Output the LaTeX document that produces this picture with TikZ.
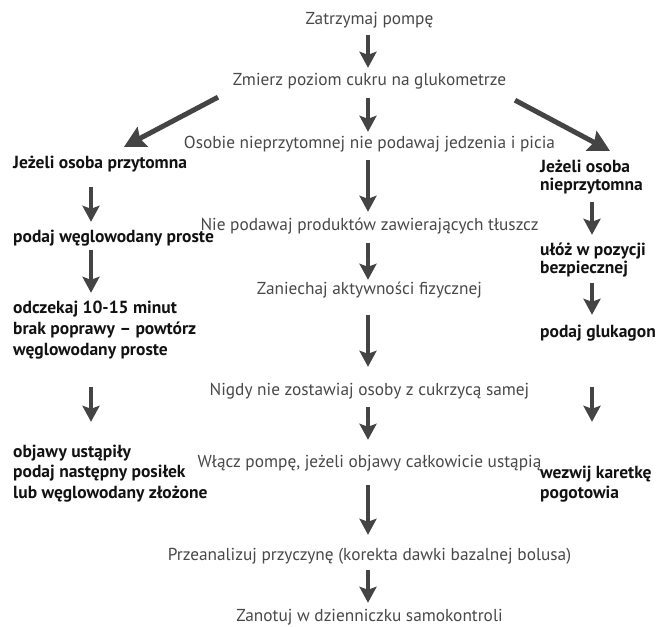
\documentclass[tikz,border=0pt]{standalone}
\usepackage{fontspec}
\setmainfont{PT Sans}
\usetikzlibrary{arrows.meta,calc}
\definecolor{txtgray}{HTML}{484848}
\definecolor{txtdark}{HTML}{121212}
\definecolor{arrgray}{HTML}{444444}
\begin{document}
\begin{tikzpicture}[x=1pt,y=-1pt,
  ctext/.style={anchor=base, inner sep=0pt, text=txtgray,
    font=\fontsize{17.3}{21}\selectfont, text height=12.5pt, text depth=4pt},
  lline/.style={anchor=base west, inner sep=0pt, text=txtdark,
    font=\bfseries\fontsize{17.5}{21}\selectfont, text height=12.5pt, text depth=4pt},
  lblock/.style={anchor=base west, inner sep=0pt, text=txtdark,
    font=\bfseries\fontsize{17.5}{#1}\selectfont},
  lblock/.default=21,
  arr/.style={draw=arrgray, line width=4pt, -{Stealth[length=16pt,width=17pt,inset=3pt]}},
  darr/.style={draw=arrgray, line width=5pt, -{Stealth[length=21pt,width=22pt,inset=3pt]}}
]
\useasboundingbox (0,0) rectangle (657,627);
\coordinate (cc) at (368,0);
\coordinate (lc) at (91,0);
\coordinate (rc) at (592,0);

% centre column
\node[ctext] (zat) at (369.5,24) {Zatrzymaj pompę};
\node[ctext] (zm) at (369.5,85) {Zmierz poziom cukru na glukometrze};
\node[ctext] (os) at (369.5,148) {Osobie nieprzytomnej nie podawaj jedzenia i picia};
\node[ctext] (np) at (369.5,230) {Nie podawaj produktów zawierających tłuszcz};
\node[ctext] (za) at (369.5,294) {Zaniechaj aktywności fizycznej};
\node[ctext] (ni) at (369.5,395) {Nigdy nie zostawiaj osoby z cukrzycą samej};
\node[ctext] (wl) at (369.5,467) {Włącz pompę, jeżeli objawy całkowicie ustąpią};
\node[ctext] (pr) at (369.5,560) {Przeanalizuj przyczynę (korekta dawki bazalnej bolusa)};
\node[ctext] (zn) at (369.5,621) {Zanotuj w dzienniczku samokontroli};

% left column
\node[lline] (jp) at (13,168) {Jeżeli osoba przytomna};
\node[lline] (pw) at (13,242) {podaj węglowodany proste};
\node[lblock] (od) at (13,313) {\begin{tabular}[t]{@{}l@{}}odczekaj 10-15 minut\\brak poprawy – powtórz\\węglowodany proste\end{tabular}};
\node[lblock=20.5] (ob) at (13,457) {\begin{tabular}[t]{@{}l@{}}objawy ustąpiły\\podaj następny posiłek\\lub węglowodany złożone\end{tabular}};

% right column
\node[lblock=18] (jn) at (540,172) {\begin{tabular}[t]{@{}l@{}}Jeżeli osoba\\nieprzytomna\end{tabular}};
\node[lblock=18] (up) at (540,255) {\begin{tabular}[t]{@{}l@{}}ułóż w pozycji\\bezpiecznej\end{tabular}};
\node[lline] (pg) at (540,337) {podaj glukagon};
\node[lblock=20] (wk) at (540,478) {\begin{tabular}[t]{@{}l@{}}wezwij karetkę\\pogotowia\end{tabular}};

% centre arrows
\draw[arr, shorten <=7pt, shorten >=4.5pt] (zat.south -| cc) -- (zm.north -| cc);
\draw[arr, shorten <=9pt, shorten >=3.5pt] (zm.south -| cc) -- (os.north -| cc);
\draw[arr, shorten <=8pt, shorten >=5.5pt] (os.south -| cc) -- (np.north -| cc);
\draw[arr, shorten <=9pt, shorten >=1.5pt] (np.south -| cc) -- (za.north -| cc);
\draw[arr, shorten <=17pt, shorten >=15.5pt] (za.south -| cc) -- (ni.north -| cc);
\draw[arr, shorten <=8pt, shorten >=14.5pt] (ni.south -| cc) -- (wl.north -| cc);
\draw[arr, shorten <=14pt, shorten >=12.5pt] (wl.south -| cc) -- (pr.north -| cc);
\draw[arr, shorten <=6pt, shorten >=5.5pt] (pr.south -| cc) -- (zn.north -| cc);

% left arrows
\draw[arr, shorten <=15pt, shorten >=7.5pt] (jp.south -| lc) -- (pw.north -| lc);
\draw[arr, shorten <=4pt, shorten >=5.3pt] (pw.south -| lc) -- (od.north -| lc);
\draw[arr, shorten <=25.7pt, shorten >=20.6pt] (od.south -| lc) -- (ob.north -| lc);

% right arrows
\draw[arr, shorten <=6.6pt, shorten >=7.4pt] (jn.south -| rc) -- (up.north -| rc);
\draw[arr, shorten <=4.6pt, shorten >=9.5pt] (up.south -| rc) -- (pg.north -| rc);
\draw[arr, shorten <=46pt, shorten >=42pt] (pg.south -| rc) -- (wk.north -| rc);

% diagonal arrows
\draw[darr] ($(zm.south -| cc)+(-150,8)$) -- ($(jp.north -| lc)+(33,-8.5)$);
\draw[darr] ($(zm.south -| cc)+(147,11)$) -- ($(jn.north -| rc)+(18,-8.4)$);
\end{tikzpicture}
\end{document}
